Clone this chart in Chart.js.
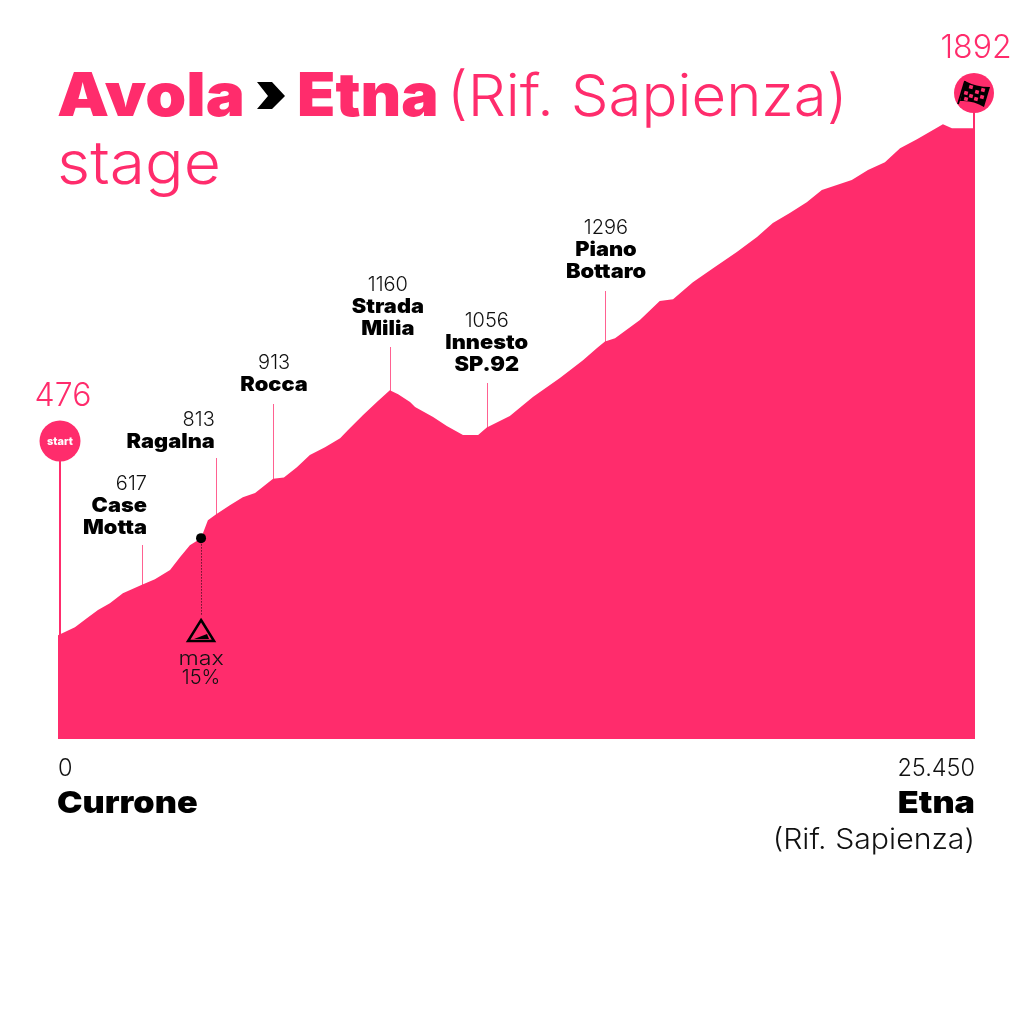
<!DOCTYPE html>
<html>
<head>
<meta charset="utf-8">
<title>Avola - Etna stage</title>
<script src="https://cdn.jsdelivr.net/npm/chart.js@4"></script>
<style>
    html, body { margin: 0; padding: 0; background: #ffffff; }
    #wrap { width: 1024px; height: 1024px; }
</style>
</head>
<body>
<div id="wrap"><canvas id="profileChart" width="1024" height="1024"></canvas></div>
<script>
const distanceKm = [0, 0.47, 0.80, 1.11, 1.44, 1.80, 2.33, 2.69, 3.11, 3.39, 3.66, 3.97, 4.16, 4.38, 4.77, 5.13, 5.47, 5.97, 6.27, 6.63, 6.99, 7.41, 7.83, 8.05, 8.46, 8.85, 9.21, 9.44, 9.77, 9.91, 10.41, 10.79, 11.24, 11.66, 11.90, 12.54, 13.18, 13.93, 14.57, 14.96, 15.18, 15.46, 16.15, 16.70, 17.07, 17.62, 18.18, 18.84, 19.40, 19.84, 20.31, 20.78, 21.20, 22.03, 22.48, 22.95, 23.37, 23.84, 24.56, 24.81, 25.39, 25.45];
const elevation = [476, 498, 523, 546, 565, 593, 617, 632, 658, 694, 727, 747, 797, 813, 839, 861, 873, 913, 916, 945, 979, 1001, 1026, 1049, 1090, 1127, 1160, 1149, 1127, 1113, 1085, 1060, 1035, 1035, 1056, 1088, 1141, 1194, 1244, 1278, 1296, 1305, 1356, 1409, 1414, 1462, 1501, 1546, 1588, 1627, 1655, 1685, 1719, 1747, 1775, 1797, 1836, 1861, 1903, 1892, 1892, 1892];

const tickValues = [0, 25.45];
const tickLabels = ['0', '25.450'];

const placeNames = [['Case', 'Motta'], ['Ragalna'], ['Rocca'], ['Strada', 'Milia'], ['Innesto', 'SP.92'], ['Piano', 'Bottaro']];
const placeKm = [2.33, 4.38, 5.97, 9.21, 11.90, 15.18];
const placeElevation = [617, 813, 913, 1160, 1056, 1296];

const maxSlopeKm = [3.97];
const maxSlopeElevation = [747];

const startElevation = 476;
const finishElevation = 1892;

const PINK = '#ff2c6c';
const BLACK = '#000000';
const FONT = 'Inter, "Noto Sans", sans-serif';

// solo layout delle etichette: allineamento, riga di base del valore, cima della linea
const placeLayout = [
    { align: 'right', dx: 5, top: 490, stem: 545 },
    { align: 'right', dx: -1, top: 426, stem: 458 },
    { align: 'center', dx: 1, top: 369, stem: 404 },
    { align: 'center', dx: -2, top: 291, stem: 347 },
    { align: 'center', dx: 0, top: 327, stem: 383 },
    { align: 'center', dx: 1, top: 234, stem: 291 }
];

// sx: stiramento orizzontale, il font originale e' piu' largo
function tulis(ctx, text, x, y, size, weight, color, align, sx) {
    ctx.save();
    ctx.font = weight + ' ' + size + 'px ' + FONT;
    ctx.fillStyle = color;
    ctx.textAlign = align || 'left';
    ctx.textBaseline = 'alphabetic';
    ctx.translate(x, y);
    ctx.scale(sx || 1, 1);
    ctx.fillText(text, 0, 0);
    ctx.restore();
}

function gambarJudul(ctx) {
    tulis(ctx, 'Avola', 57, 116, 60, 900, PINK, 'left', 1.095);
    // chevron
    ctx.fillStyle = BLACK;
    ctx.beginPath();
    ctx.moveTo(257, 82);
    ctx.lineTo(272, 82);
    ctx.lineTo(285, 96);
    ctx.lineTo(272, 109);
    ctx.lineTo(257, 109);
    ctx.lineTo(268, 96);
    ctx.closePath();
    ctx.fill();
    tulis(ctx, 'Etna', 297, 116, 60, 900, PINK, 'left', 1.045);
    tulis(ctx, '(Rif. Sapienza)', 447, 116, 58, 300, PINK, 'left', 1.032);
    tulis(ctx, 'stage', 57, 184, 60, 300, PINK, 'left', 1.07);
}

function gambarTempat(ctx, xs, ys) {
    placeNames.forEach((lines, i) => {
        const px = xs.getPixelForValue(placeKm[i]);
        const py = ys.getPixelForValue(placeElevation[i]);
        const lay = placeLayout[i];

        ctx.strokeStyle = 'rgba(255, 44, 108, 0.75)';
        ctx.lineWidth = 1;
        ctx.beginPath();
        ctx.moveTo(Math.round(px) + 0.5, lay.stem);
        ctx.lineTo(Math.round(px) + 0.5, py + 2);
        ctx.stroke();

        const tx = px + lay.dx;
        tulis(ctx, String(placeElevation[i]), tx, lay.top, 20, 300, '#111111', lay.align);
        lines.forEach((line, j) => {
            tulis(ctx, line, tx, lay.top + 22 + j * 22, 20, 900, BLACK, lay.align, 1.09);
        });
    });
}

function gambarStart(ctx, xs, ys) {
    const px = xs.getPixelForValue(0);
    const py = ys.getPixelForValue(startElevation);
    ctx.strokeStyle = PINK;
    ctx.lineWidth = 2;
    ctx.beginPath();
    ctx.moveTo(px + 2, 441);
    ctx.lineTo(px + 2, py + 1);
    ctx.stroke();
    ctx.fillStyle = PINK;
    ctx.beginPath();
    ctx.arc(px + 2, 441, 20.5, 0, Math.PI * 2);
    ctx.fill();
    tulis(ctx, 'start', px + 2, 445, 11, 800, '#ffffff', 'center');
    tulis(ctx, String(startElevation), px + 5, 406, 32, 300, PINK, 'center');
}

function gambarFinish(ctx, xs, ys) {
    const px = xs.getPixelForValue(25.45);
    ctx.strokeStyle = PINK;
    ctx.lineWidth = 2;
    ctx.beginPath();
    ctx.moveTo(px - 1, 93);
    ctx.lineTo(px - 1, 355);
    ctx.stroke();
    const cx = px - 1, cy = 93;
    ctx.fillStyle = PINK;
    ctx.beginPath();
    ctx.arc(cx, cy, 20, 0, Math.PI * 2);
    ctx.fill();
    gambarBendera(ctx, cx, cy);
    tulis(ctx, String(finishElevation), px + 1, 58, 32, 300, PINK, 'center');
}

function gambarBendera(ctx, cx, cy) {
    ctx.save();
    ctx.translate(cx, cy);
    // tiang
    ctx.strokeStyle = BLACK;
    ctx.lineWidth = 1.8;
    ctx.beginPath();
    ctx.moveTo(-16, 11);
    ctx.lineTo(-9, -12);
    ctx.stroke();
    // kain
    ctx.fillStyle = BLACK;
    ctx.beginPath();
    ctx.moveTo(-9, -12);
    ctx.quadraticCurveTo(2, -6, 16, -6);
    ctx.lineTo(10, 14);
    ctx.quadraticCurveTo(-1, 7, -14, 8);
    ctx.closePath();
    ctx.fill();
    // kotak kotak
    ctx.fillStyle = PINK;
    const kotak = [[-3, -6], [3, -1], [9, -3], [-8, 0], [-3, 3], [8, 4], [2, 6], [-8, 6]];
    kotak.forEach(k => {
        ctx.save();
        ctx.translate(k[0], k[1]);
        ctx.rotate(0.25);
        ctx.fillRect(-1.9, -1.9, 3.8, 3.8);
        ctx.restore();
    });
    ctx.restore();
}

function gambarPendakian(ctx, xs, ys) {
    const px = xs.getPixelForValue(maxSlopeKm[0]);
    const py = ys.getPixelForValue(maxSlopeElevation[0]);
    ctx.strokeStyle = 'rgba(0,0,0,0.6)';
    ctx.lineWidth = 1;
    ctx.setLineDash([1.5, 1.5]);
    ctx.beginPath();
    ctx.moveTo(Math.round(px) + 0.5, py);
    ctx.lineTo(Math.round(px) + 0.5, 616);
    ctx.stroke();
    ctx.setLineDash([]);

    // segitiga
    ctx.strokeStyle = BLACK;
    ctx.lineWidth = 2.5;
    ctx.lineJoin = 'miter';
    ctx.beginPath();
    ctx.moveTo(px, 620);
    ctx.lineTo(px + 13, 641);
    ctx.lineTo(px - 13, 641);
    ctx.closePath();
    ctx.stroke();
    ctx.fillStyle = BLACK;
    ctx.beginPath();
    ctx.moveTo(px - 7, 639);
    ctx.lineTo(px + 6, 634);
    ctx.lineTo(px + 8, 639);
    ctx.closePath();
    ctx.fill();

    tulis(ctx, 'max', px, 665, 20, 300, '#111111', 'center', 1.16);
    tulis(ctx, '15%', px, 684, 20, 300, '#111111', 'center');
}

const hiasanProfil = {
    id: 'hiasanProfil',
    afterDatasetsDraw(chart) {
        const ctx = chart.ctx;
        const xs = chart.scales.x;
        const ys = chart.scales.y;
        ctx.save();
        gambarStart(ctx, xs, ys);
        gambarFinish(ctx, xs, ys);
        gambarTempat(ctx, xs, ys);
        gambarPendakian(ctx, xs, ys);
        gambarJudul(ctx);
        tulis(ctx, 'Currone', 57, 813, 30, 900, BLACK, 'left', 1.14);
        tulis(ctx, 'Etna', 975, 813, 30, 900, BLACK, 'right', 1.14);
        tulis(ctx, '(Rif. Sapienza)', 975, 849, 28, 300, '#111111', 'right', 1.08);
        ctx.restore();
    }
};

function buatGrafikProfil() {
    const ctx = document.getElementById('profileChart').getContext('2d');

    new Chart(ctx, {
        type: 'line',
        data: {
            datasets: [{
                label: 'Quota',
                data: distanceKm.map((km, i) => ({ x: km, y: elevation[i] })),
                borderColor: PINK,
                borderWidth: 0,
                backgroundColor: PINK,
                fill: 'origin',
                tension: 0,
                pointRadius: 0,
                order: 2
            }, {
                label: 'Pendenza massima',
                data: maxSlopeKm.map((km, i) => ({ x: km, y: maxSlopeElevation[i] })),
                showLine: false,
                pointRadius: 5,
                pointBackgroundColor: BLACK,
                pointBorderWidth: 0,
                order: 1
            }]
        },
        plugins: [hiasanProfil],
        options: {
            responsive: false,
            animation: false,
            layout: { padding: { left: 58, right: 49, top: 0, bottom: 225 } },
            plugins: { legend: { display: false }, tooltip: { enabled: false } },
            scales: {
                x: {
                    type: 'linear',
                    min: 0,
                    max: 25.45,
                    afterBuildTicks(scale) {
                        scale.ticks = tickValues.map(v => ({ value: v }));
                    },
                    afterFit(scale) {
                        scale.height = 60;
                        scale.paddingLeft = 0;
                        scale.paddingRight = 0;
                    },
                    grid: { display: false },
                    border: { display: false },
                    ticks: {
                        autoSkip: false,
                        maxRotation: 0,
                        align: 'inner',
                        padding: 8,
                        color: '#111111',
                        font: { family: FONT, size: 23.5, weight: 300 },
                        callback: (value, index) => tickLabels[index]
                    }
                },
                y: {
                    display: false,
                    min: 186,
                    max: 2236 // l'area del grafico parte da y=5
                }
            }
        }
    });
}

document.addEventListener('DOMContentLoaded', buatGrafikProfil);
</script>
</body>
</html>
